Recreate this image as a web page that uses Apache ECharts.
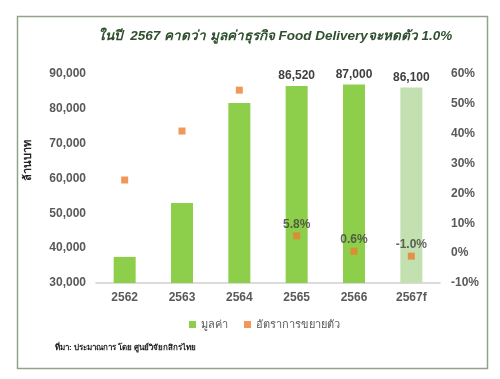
<!DOCTYPE html>
<html><head><meta charset="utf-8">
<script src="https://cdn.jsdelivr.net/npm/echarts@6/dist/echarts.min.js"></script>
<style>html,body{margin:0;padding:0;background:#fff}#c{width:500px;height:379px}</style>
</head><body><div id="c"></div>
<script>
const categories = ['2562','2563','2564','2565','2566','2567f'];
const values = [37500, 53000, 81700, 86520, 87000, 86100];
const growth = [24.5, 40.9, 54.6, 5.8, 0.6, -1.0];
const valueLabels = ['', '', '', '86,520', '87,000', '86,100'];
const growthLabels = ['', '', '', '5.8%', '0.6%', '-1.0%'];
const leftTicks = [30000, 90000, 10000];
const rightTicks = [-10, 60, 10];

const chart = echarts.init(document.getElementById('c'));
const FONT = 'Liberation Sans, Arial, Noto Sans, sans-serif';
chart.setOption({
  animation: false,
  textStyle: {fontFamily: FONT},
  title: {
    text: 'ในปี  2567 คาดว่า มูลค่าธุรกิจ Food Deliveryจะหดตัว 1.0%',
    left: 270, top: 24, textAlign: 'center',
    textStyle: {fontSize: 13.5, fontWeight: 'bold', fontStyle: 'italic', color: '#2f4f2f', fontFamily: FONT}
  },
  graphic: [
    {type: 'rect', shape: {x: 17.5, y: 16.5, width: 470, height: 352}, style: {fill: 'none', stroke: '#93a389', lineWidth: 1.5}, z: -1},
    {type: 'text', left: 55, top: 344, style: {text: 'ที่มา: ประมาณการ โดย ศูนย์วิจัยกสิกรไทย', fontSize: 8, fontWeight: 'bold', fill: '#222', fontFamily: FONT}},
    {type: 'text', x: 28, y: 160, rotation: Math.PI / 2,
     style: {text: 'ล้านบาท', fontSize: 11, fontWeight: 'bold', fill: '#222', align: 'center', verticalAlign: 'middle', fontFamily: FONT}}
  ],
  legend: {
    top: 314, left: 184,
    itemWidth: 7, itemHeight: 7, itemGap: 16,
    textStyle: {fontSize: 11, color: '#595959'},
    data: [{name: 'มูลค่า', icon: 'rect', itemStyle: {color: '#8dcf4a'}}, {name: 'อัตราการขยายตัว', icon: 'rect', itemStyle: {color: '#ed7d31'}}]
  },
  grid: {left: 96, right: 60, top: 74, bottom: 96},
  xAxis: {
    type: 'category', data: categories,
    axisLine: {onZero: false, lineStyle: {color: '#d0d0d0', width: 1.5}},
    axisTick: {show: false},
    axisLabel: {fontSize: 12, fontWeight: 'bold', color: '#595959', margin: 9}
  },
  yAxis: [
    {type: 'value', min: leftTicks[0], max: leftTicks[1], interval: leftTicks[2],
     splitLine: {show: false}, axisLine: {show: false}, axisTick: {show: false},
     axisLabel: {fontSize: 12, fontWeight: 'bold', color: '#595959', margin: 10,
       formatter: v => v.toLocaleString('en-US')}},
    {type: 'value', min: rightTicks[0], max: rightTicks[1], interval: rightTicks[2],
     splitLine: {show: false}, axisLine: {show: false}, axisTick: {show: false},
     axisLabel: {fontSize: 12, fontWeight: 'bold', color: '#595959', margin: 11, formatter: '{value}%'}}
  ],
  series: [
    {name: 'มูลค่า', type: 'bar', barWidth: 22, yAxisIndex: 0,
     data: values.map((v, i) => ({value: v, itemStyle: {color: i === 5 ? '#c3e0b0' : '#8dcf4a'}})),
     label: {show: true, position: 'top', distance: 4, fontSize: 12, fontWeight: 'bold', color: '#404040',
       formatter: p => valueLabels[p.dataIndex]}},
    {name: 'อัตราการขยายตัว', type: 'scatter', yAxisIndex: 1, symbol: 'rect', symbolSize: 7,
     itemStyle: {color: '#ed7d31'}, data: growth,
     label: {show: true, position: 'top', distance: 2, fontSize: 12, fontWeight: 'bold', color: '#404040',
       formatter: p => growthLabels[p.dataIndex]}}
  ]
});
</script></body></html>
